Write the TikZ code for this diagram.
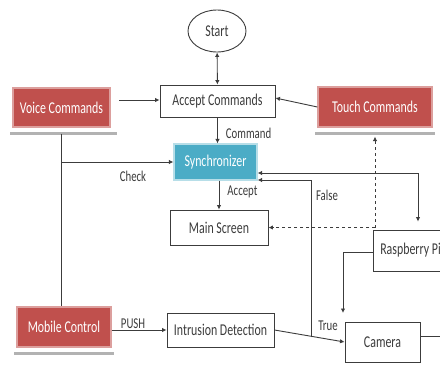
\documentclass[tikz,border=0pt]{standalone}
\usepackage{fontspec}
\setmainfont{Carlito}[FakeStretch=0.72]
\usetikzlibrary{arrows.meta,shapes.geometric,calc}
\definecolor{redbox}{HTML}{C0504D}
\definecolor{aqua}{HTML}{4BACC6}
\definecolor{ink}{HTML}{3C3C3C}
\tikzset{
  txt/.style={font=\fontsize{16.5}{18}\selectfont, text=ink},
  lbl/.style={font=\fontsize{15}{16}\selectfont, text=ink, inner sep=0pt},
  wbox/.style={txt, draw=ink, line width=0.9pt, fill=white, inner sep=0pt},
  rbox/.style={txt, draw=redbox!55, line width=1.2pt, fill=redbox, text=white, inner sep=0pt},
  abox/.style={txt, draw=aqua!40, line width=1.2pt, fill=aqua, text=white, inner sep=0pt},
  arr/.style={draw=ink, line width=0.9pt, -{Latex[length=4.5pt,width=4.5pt]}},
  dblarr/.style={draw=ink, line width=0.9pt, {Latex[length=4.5pt,width=4.5pt]}-{Latex[length=4.5pt,width=4.5pt]}},
  dasharr/.style={draw=ink, line width=0.9pt, dashed, dash pattern=on 3pt off 3pt, -{Latex[length=4.5pt,width=4.5pt]}},
  plain/.style={draw=ink, line width=0.9pt},
  shadowbar/.style={draw=gray!60, line width=2.5pt},
}
\begin{document}
\begin{tikzpicture}[x=1pt,y=-1pt]
\useasboundingbox (0,0) rectangle (440,365);
\clip (0,0) rectangle (440,365);
\fill[white] (0,0) rectangle (440,365);

% nodes
\node[txt, draw=ink, line width=0.9pt, ellipse, minimum width=58pt, minimum height=42pt, inner sep=0pt] (start) at (217,31) {Start};
\node[wbox, minimum width=115pt, minimum height=32pt] (acc) at (217.5,101) {Accept Commands};
\node[rbox, minimum width=97pt, minimum height=39pt] (voice) at (61.5,107.5) {Voice Commands};
\node[rbox, minimum width=114pt, minimum height=40pt] (touch) at (375,107) {Touch Commands};
\node[abox, minimum width=83pt, minimum height=36pt] (sync) at (215.5,162) {Synchronizer};
\node[wbox, minimum width=98pt, minimum height=35pt] (main) at (219,227.5) {Main Screen};
\node[wbox, minimum width=75pt, minimum height=41pt] (rasp) at (410.5,250.5) {Raspberry Pi};
\node[wbox, minimum width=75pt, minimum height=40pt] (camera) at (382.5,342) {Camera};
\node[wbox, minimum width=107pt, minimum height=34pt] (intr) at (220.5,330) {Intrusion Detection};
\node[rbox, minimum width=94pt, minimum height=40pt] (mobile) at (64,327) {Mobile Control};

% shadows under red boxes
\draw[shadowbar] ([xshift=-2pt,yshift=-6pt]voice.south west) -- ([xshift=6pt,yshift=-6pt]voice.south east);
\draw[shadowbar] ([xshift=-2pt,yshift=-6pt]touch.south west) -- ([xshift=2pt,yshift=-6pt]touch.south east);
\draw[shadowbar] ([xshift=-2pt,yshift=-6pt]mobile.south west) -- ([xshift=2pt,yshift=-6pt]mobile.south east);

% free coordinates
\coordinate (vstart) at (119,100);
\coordinate (fj) at (311,337);
\coordinate (cT) at (343,313);
\coordinate (camOut) at (445,336);

% connectors
\draw[dblarr] (start) -- (acc);
\draw[arr] (vstart) -- (vstart -| acc.west);
\draw[arr] (touch.west) -- ([yshift=3pt]acc.east);
\draw[arr] (acc.south) -- (acc.south |- sync.north) node[lbl, midway, right, xshift=8pt, yshift=-3pt] {Command};
\draw[plain] ([yshift=-6pt]voice.south) -- (voice.south |- mobile.north);
\draw[arr] (voice.south |- sync.west) -- (sync.west);
\node[lbl] (check) at (133,176) {Check};
\draw[arr] (sync.south -| main.north) -- (main.north) node[lbl, midway, right, xshift=8pt, yshift=3pt] {Accept};
\draw[dblarr] ([yshift=-11pt]sync.east) -| ([xshift=7.5pt,yshift=8pt]rasp.north);
\draw[arr] (fj) |- ([yshift=-18pt]sync.east);
\node[lbl] (false) at (327,195) {False};
\draw[dasharr] (main.east -| touch.south) -- (main.east);
\draw[dasharr] (main.east -| touch.south) -- ([yshift=-9pt]touch.south);
\draw[arr] ([yshift=-1.5pt]rasp.west) -| (cT);
\node[lbl] (true) at (328,326) {True};
\draw[arr] (mobile.east |- intr.west) -- (intr.west) node[lbl, midway, above, xshift=-6pt, yshift=1pt] {PUSH};
\draw[arr] (intr.east) -- (camera.west);
\draw[plain] ([yshift=6pt]camera.east) -- (camOut);
\end{tikzpicture}
\end{document}
